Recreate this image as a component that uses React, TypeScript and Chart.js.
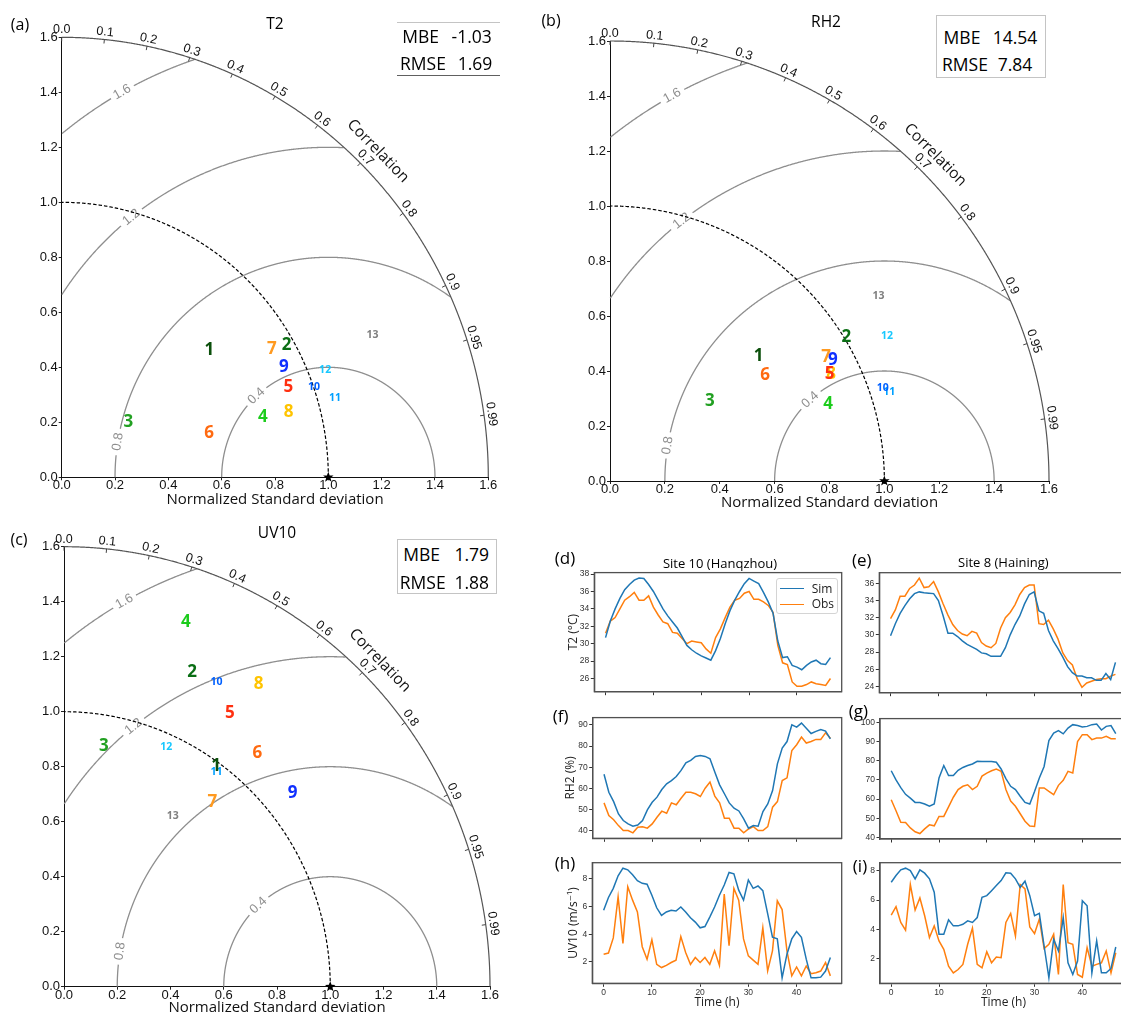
import React, { useEffect, useRef } from 'react';
import { Chart, registerables } from 'chart.js';

Chart.register(...registerables);

// ---------------- data ----------------
const hours = [0, 1, 2, 3, 4, 5, 6, 7, 8, 9, 10, 11, 12, 13, 14, 15, 16, 17, 18, 19, 20, 21, 22, 23, 24, 25, 26, 27, 28, 29, 30, 31, 32, 33, 34, 35, 36, 37, 38, 39, 40, 41, 42, 43, 44, 45, 46, 47];
const hourTicks = [0, 10, 20, 30, 40];

// Site 10 (Hangzhou)
const hzT2Sim = [30.7, 32.6, 34.0, 35.2, 36.2, 36.8, 37.3, 37.55, 37.5, 36.8, 36.0, 35.0, 34.0, 33.2, 32.5, 31.8, 30.8, 29.8, 29.3, 28.9, 28.6, 28.35, 28.1, 29.2, 30.6, 32.3, 33.8, 35.0, 36.0, 36.9, 37.5, 37.2, 36.9, 35.9, 34.8, 33.5, 30.3, 28.4, 28.5, 27.5, 27.3, 27.0, 27.5, 27.9, 28.1, 27.7, 27.6, 28.4];
const hzT2Obs = [31.2, 32.6, 33.0, 34.0, 35.0, 35.4, 35.9, 35.0, 35.0, 35.5, 34.2, 33.3, 32.5, 32.3, 31.3, 31.2, 30.6, 30.0, 30.3, 30.2, 30.1, 29.4, 28.9, 30.7, 31.7, 33.0, 34.2, 35.0, 35.2, 35.8, 36.0, 35.1, 35.1, 34.8, 34.4, 33.6, 29.8, 27.8, 27.6, 25.6, 25.1, 25.1, 25.3, 25.6, 25.4, 25.3, 25.2, 26.0];
const hzRHSim = [66.7, 58.2, 53.8, 48, 44.9, 43.3, 42.2, 42.8, 44.9, 49.9, 53.5, 55.9, 59.5, 62.2, 63.7, 65.6, 68.5, 72.1, 73.2, 75.1, 75.5, 75.1, 74, 67.7, 61.7, 57.5, 53.2, 50.7, 49.4, 45.7, 41.3, 42.5, 42.2, 49.1, 52.7, 59, 71.6, 79, 82.1, 90, 88.9, 90.8, 88.4, 85.9, 86.9, 87.8, 87, 83.4];
const hzRHObs = [53.2, 47.2, 45.3, 42.5, 40.2, 40.2, 39.1, 41.7, 42, 41.3, 43.3, 46.4, 49.3, 48.3, 53.2, 52.3, 55.4, 58.2, 58.2, 57.5, 56.2, 60.1, 63, 56.4, 53.2, 46, 46, 41.3, 41.3, 39.1, 40.9, 42, 40.2, 40.2, 42, 51.2, 53.8, 63.7, 65, 77.9, 80.6, 84.2, 81.4, 82.1, 83.1, 83.1, 86.2, 83.7];
const hzUVSim = [5.72, 6.64, 7.3, 8.2, 8.75, 8.63, 8.27, 7.85, 7.66, 7.6, 6.8, 5.9, 5.35, 5.6, 5.72, 5.67, 5.96, 5.6, 5.18, 4.87, 4.46, 4.55, 5.23, 5.96, 6.8, 7.54, 8.44, 8.34, 7.17, 6.45, 7.9, 7.3, 7.47, 7.13, 5.48, 3.78, 3.66, 0.86, 2.56, 3.66, 4.19, 3.78, 2.2, 0.86, 0.86, 0.91, 1.35, 2.32];
const hzUVObs = [2.56, 2.64, 3.73, 6.69, 3.34, 7.42, 6.45, 5.6, 3.1, 2.2, 3.6, 1.83, 1.6, 1.76, 1.96, 2.13, 3.83, 2.68, 1.83, 2.32, 1.96, 2.32, 1.83, 2.8, 1.76, 6.88, 3.17, 7.3, 6.45, 3.66, 2.44, 2.13, 1.83, 4.46, 1.35, 2.8, 6.4, 5.77, 2.8, 1.0, 1.64, 1.0, 1.71, 1.16, 1.23, 1.35, 1.96, 1.0];

// Site 8 (Haining)
const hnT2Sim = [29.9, 31.3, 32.5, 33.4, 34.2, 34.8, 35.0, 34.9, 34.85, 34.8, 34.0, 32.2, 30.2, 30.2, 29.8, 29.3, 28.9, 28.6, 28.3, 27.9, 27.8, 27.5, 27.5, 27.5, 28.5, 30.0, 31.2, 32.2, 33.6, 34.7, 35.0, 32.8, 32.5, 30.5, 29.3, 28.4, 27.4, 26.3, 25.6, 25.2, 25.2, 25.0, 25.0, 24.7, 24.7, 25.5, 24.8, 26.8];
const hnT2Obs = [31.9, 32.9, 34.5, 34.5, 35.4, 35.8, 36.6, 35.5, 35.6, 36.2, 35.0, 33.6, 32.3, 31.2, 30.5, 30.1, 29.9, 30.4, 30.2, 29.1, 28.7, 28.5, 29.0, 30.8, 32.0, 32.6, 33.5, 34.7, 35.5, 35.8, 35.8, 31.3, 31.2, 31.7, 30.7, 29.5, 27.9, 27.0, 26.5, 24.9, 23.9, 24.4, 24.6, 24.8, 24.9, 24.9, 25.2, 25.4];
const hnRHSim = [74.8, 70, 66, 62.5, 60.5, 58.3, 58.2, 57.5, 56.3, 57.5, 71, 77.5, 72.3, 72.3, 75, 76.5, 77.5, 78.3, 79.7, 79.6, 79.6, 79.6, 79.2, 75.7, 70.7, 66.7, 65, 61.5, 58.3, 57.5, 64, 71, 77, 90.5, 94.4, 95.7, 94, 97, 98.8, 98.4, 97.6, 97.9, 98.8, 99.1, 96, 97.9, 98.3, 94.1];
const hnRHObs = [59.7, 54, 48, 47.8, 45, 43, 42.1, 44.5, 46.6, 46.1, 51, 51, 56, 61, 65, 66.7, 67.5, 65, 66.7, 72, 73.6, 74.8, 75.7, 74.5, 65, 59, 56.3, 52.4, 48.5, 46.0, 45.8, 65.8, 65.8, 64, 62.3, 67.2, 69.8, 74.5, 73.6, 90, 93.6, 93.6, 91, 91.8, 91.8, 92.7, 91.5, 91.5];
const hnUVSim = [7.22, 7.68, 8.07, 8.18, 8.02, 7.45, 8.07, 7.84, 7.45, 6.53, 3.66, 3.66, 4.64, 4.23, 4.23, 4.34, 4.57, 4.46, 4.8, 6.18, 6.3, 6.64, 6.99, 7.33, 7.86, 7.84, 7.45, 6.87, 7.29, 6.3, 4.92, 5.08, 2.85, 0.67, 3.31, 2.51, 4.8, 1.7, 0.9, 1.82, 5.95, 5.6, 1.01, 3.2, 1.01, 1.01, 1.31, 2.78];
const hnUVObs = [4.97, 5.54, 4.46, 3.93, 7.06, 5.31, 6.14, 4.92, 3.43, 4.23, 3.2, 2.62, 1.47, 1.01, 1.24, 1.59, 2.97, 4.07, 1.59, 1.36, 2.46, 1.7, 2.09, 2.05, 4.46, 5.08, 3.54, 7.06, 6.76, 4.16, 3.7, 4.69, 2.67, 2.97, 3.66, 0.9, 7.06, 3.08, 2.97, 0.9, 0.71, 2.74, 1.47, 1.59, 1.7, 2.51, 1.01, 2.39];

const t2HzTicks = [26, 28, 30, 32, 34, 36, 38];
const t2HnTicks = [24, 26, 28, 30, 32, 34, 36];
const rhHzTicks = [40, 50, 60, 70, 80, 90];
const rhHnTicks = [40, 50, 60, 70, 80, 90, 100];
const uvTicks = [2, 4, 6, 8];

// Taylor diagrams (normalized std-dev plane coordinates of each site label)
const siteIds = ['1', '2', '3', '4', '5', '6', '7', '8', '9', '10', '11', '12', '13'];
const t2X = [0.554, 0.844, 0.25, 0.754, 0.85, 0.553, 0.788, 0.851, 0.833, 0.946, 1.025, 0.988, 1.166];
const t2Y = [0.461, 0.481, 0.202, 0.217, 0.327, 0.16, 0.465, 0.236, 0.40, 0.33, 0.287, 0.39, 0.519];
const rh2X = [0.542, 0.861, 0.364, 0.795, 0.80, 0.565, 0.788, 0.806, 0.812, 0.994, 1.018, 1.01, 0.979];
const rh2Y = [0.455, 0.524, 0.291, 0.28, 0.389, 0.384, 0.449, 0.389, 0.44, 0.337, 0.324, 0.528, 0.673];
const uvX = [0.571, 0.481, 0.15, 0.458, 0.623, 0.726, 0.557, 0.731, 0.859, 0.573, 0.573, 0.384, 0.408];
const uvY = [0.802, 1.145, 0.876, 1.324, 0.996, 0.848, 0.672, 1.099, 0.703, 1.109, 0.782, 0.872, 0.622];
const refPoint = [1.0, 0.0];

const stdTicks = [0, 0.2, 0.4, 0.6, 0.8, 1.0, 1.2, 1.4, 1.6];
const corrValues = [0, 0.1, 0.2, 0.3, 0.4, 0.5, 0.6, 0.7, 0.8, 0.9, 0.95, 0.99];
const corrLabels = ['0.0', '0.1', '0.2', '0.3', '0.4', '0.5', '0.6', '0.7', '0.8', '0.9', '0.95', '0.99'];
const rmsLevels = [0.4, 0.8, 1.2, 1.6];
const rmsLabels = ['0.4', '0.8', '1.2', '1.6'];
const stdMax = 1.6;

// ---------------- styles ----------------
const siteColors = ['#0b4f0b', '#0a6e14', '#22a022', '#1ccc1c', '#ff3010', '#ff6a10', '#ff9a20', '#ffc400', '#1030ff', '#0060ff', '#00a0ff', '#18c8ff', '#808080'];
const rmsLabelAngleDeg = [132.4, 170.7, 128, 118.9];
const FONT_NUM = '"Liberation Sans", "DejaVu Sans", sans-serif';
const FONT_TXT = '"Open Sans", "DejaVu Sans", sans-serif';
const SIM_COLOR = '#1f77b4';
const OBS_COLOR = '#ff7f0e';

type Box = { l: number; t: number; r: number; b: number };

function ChartCanvas({ box, config }: { box: Box; config: () => any }) {
  const ref = useRef<HTMLCanvasElement | null>(null);
  useEffect(() => {
    const chart = new Chart(ref.current as HTMLCanvasElement, config());
    return () => chart.destroy();
  }, []);
  const w = box.r - box.l;
  const h = box.b - box.t;
  return (
    <canvas
      ref={ref}
      width={w}
      height={h}
      style={{ position: 'absolute', left: box.l, top: box.t, width: w, height: h }}
    />
  );
}

function drawStar(ctx: CanvasRenderingContext2D, x: number, y: number, ro: number, ri: number) {
  ctx.beginPath();
  for (let i = 0; i < 10; i++) {
    const a = -Math.PI / 2 + (i * Math.PI) / 5;
    const r = i % 2 === 0 ? ro : ri;
    const px = x + r * Math.cos(a);
    const py = y + r * Math.sin(a);
    if (i === 0) ctx.moveTo(px, py);
    else ctx.lineTo(px, py);
  }
  ctx.closePath();
  ctx.fill();
}

const taylorPlugin = {
  id: 'taylorGrid',
  beforeDatasetsDraw(chart: any) {
    const ctx: CanvasRenderingContext2D = chart.ctx;
    const xs = chart.scales.x;
    const ys = chart.scales.y;
    const px = (v: number) => xs.getPixelForValue(v);
    const py = (v: number) => ys.getPixelForValue(v);
    const kx = px(1) - px(0);
    const ky = py(0) - py(1);
    ctx.save();

    // RMS difference contours centred on the reference point
    rmsLevels.forEach((R, k) => {
      const phiL = (rmsLabelAngleDeg[k] * Math.PI) / 180;
      const gap = 13 / (R * (kx + ky) / 2);
      ctx.strokeStyle = '#8e8e8e';
      ctx.lineWidth = 1.3;
      ctx.setLineDash([]);
      ctx.beginPath();
      let pen = false;
      for (let i = 0; i <= 1440; i++) {
        const phi = (Math.PI * i) / 1440;
        const x = refPoint[0] + R * Math.cos(phi);
        const y = R * Math.sin(phi);
        const ok = x >= 0 && x * x + y * y <= stdMax * stdMax + 1e-9 && Math.abs(phi - phiL) > gap;
        if (ok) {
          if (!pen) { ctx.moveTo(px(x), py(y)); pen = true; }
          else ctx.lineTo(px(x), py(y));
        } else pen = false;
      }
      ctx.stroke();
      const lx = refPoint[0] + R * Math.cos(phiL);
      const ly = R * Math.sin(phiL);
      let ang = Math.atan2(-Math.cos(phiL) * ky, -Math.sin(phiL) * kx);
      if (ang > Math.PI / 2) ang -= Math.PI;
      if (ang < -Math.PI / 2) ang += Math.PI;
      ctx.save();
      ctx.translate(px(lx), py(ly));
      ctx.rotate(ang);
      ctx.fillStyle = '#8e8e8e';
      ctx.font = `13px ${FONT_NUM}`;
      ctx.textAlign = 'center';
      ctx.textBaseline = 'middle';
      ctx.fillText(rmsLabels[k], 0, 0);
      ctx.restore();
    });

    const arc = (r: number, dash: number[], color: string, lw: number) => {
      ctx.beginPath();
      for (let i = 0; i <= 720; i++) {
        const th = (Math.PI / 2) * (i / 720);
        const X = px(r * Math.cos(th));
        const Y = py(r * Math.sin(th));
        if (i === 0) ctx.moveTo(X, Y);
        else ctx.lineTo(X, Y);
      }
      ctx.setLineDash(dash);
      ctx.strokeStyle = color;
      ctx.lineWidth = lw;
      ctx.stroke();
      ctx.setLineDash([]);
    };
    arc(stdMax, [], '#555555', 1.2);
    arc(refPoint[0], [3.5, 2], '#000000', 1.2);

    // correlation ticks and labels
    ctx.fillStyle = '#111';
    ctx.strokeStyle = '#444';
    ctx.lineWidth = 1;
    ctx.textAlign = 'center';
    ctx.textBaseline = 'middle';
    corrValues.forEach((c, k) => {
      const th = Math.acos(c);
      const X = px(stdMax * Math.cos(th));
      const Y = py(stdMax * Math.sin(th));
      let nx = Math.cos(th) * kx;
      let ny = -Math.sin(th) * ky;
      const nl = Math.hypot(nx, ny);
      nx /= nl; ny /= nl;
      ctx.beginPath();
      ctx.moveTo(X, Y);
      ctx.lineTo(X - nx * 4, Y - ny * 4);
      ctx.stroke();
      const ang = Math.atan2(Math.cos(th) * ky, Math.sin(th) * kx);
      ctx.save();
      ctx.translate(X + nx * 7.5, Y + ny * 7.5);
      ctx.rotate(ang);
      ctx.font = `12.5px ${FONT_NUM}`;
      ctx.fillText(corrLabels[k], 0, 0);
      ctx.restore();
    });
    {
      const th = Math.PI / 4;
      const X = px(stdMax * Math.cos(th));
      const Y = py(stdMax * Math.sin(th));
      let nx = Math.cos(th) * kx;
      let ny = -Math.sin(th) * ky;
      const nl = Math.hypot(nx, ny);
      nx /= nl; ny /= nl;
      const ang = Math.atan2(Math.cos(th) * ky, Math.sin(th) * kx);
      ctx.save();
      ctx.translate(X + nx * 21, Y + ny * 21);
      ctx.rotate(ang);
      ctx.font = `15.5px ${FONT_TXT}`;
      ctx.fillText('Correlation', 0, 0);
      ctx.restore();
    }
    ctx.restore();
  },
  afterDatasetsDraw(chart: any) {
    const ctx: CanvasRenderingContext2D = chart.ctx;
    ctx.save();
    const refMeta = chart.getDatasetMeta(1);
    const rEl = refMeta.data[0];
    ctx.fillStyle = '#000';
    drawStar(ctx, rEl.x, rEl.y, 5.5, 2.3);
    const meta = chart.getDatasetMeta(0);
    ctx.textAlign = 'center';
    ctx.textBaseline = 'middle';
    for (let i = meta.data.length - 1; i >= 0; i--) {
      const el = meta.data[i];
      const big = siteIds[i].length === 1;
      ctx.font = `bold ${big ? 17 : 10.5}px ${FONT_TXT}`;
      ctx.fillStyle = siteColors[i];
      ctx.fillText(siteIds[i], el.x, el.y);
    }
    ctx.restore();
  },
};

function taylorConfig(xsArr: number[], ysArr: number[], plot: Box, canvas: Box) {
  const padTop = plot.t - canvas.t;
  const padRight = canvas.r - plot.r;
  const yW = plot.l - canvas.l;
  const xH = canvas.b - plot.b;
  const tickFont = { family: FONT_NUM, size: 13, lineHeight: 1 };
  return {
    type: 'scatter',
    data: {
      datasets: [
        { data: xsArr.map((x, i) => ({ x, y: ysArr[i] })), pointRadius: 0, clip: false },
        { data: [{ x: refPoint[0], y: refPoint[1] }], pointRadius: 0, clip: false },
      ],
    },
    options: {
      responsive: false,
      animation: false,
      events: [],
      layout: { padding: { top: padTop, right: padRight, left: 0, bottom: 0 }, autoPadding: false },
      plugins: { legend: { display: false }, tooltip: { enabled: false }, title: { display: false } },
      scales: {
        x: {
          type: 'linear',
          position: 'bottom',
          min: 0,
          max: stdMax,
          afterBuildTicks: (s: any) => { s.ticks = stdTicks.map((v) => ({ value: v })); },
          afterFit: (s: any) => { s.height = xH; },
          ticks: { callback: (v: any) => Number(v).toFixed(1), font: tickFont, color: '#111', padding: -1, maxRotation: 0, autoSkip: false },
          grid: { drawOnChartArea: false, tickLength: 3, color: '#222' },
          border: { display: true, color: '#111', width: 1 },
          title: { display: true, text: 'Normalized Standard deviation', font: { family: FONT_TXT, size: 15, lineHeight: 1.2 }, color: '#111', padding: 0 },
        },
        y: {
          type: 'linear',
          position: 'left',
          min: 0,
          max: stdMax,
          afterBuildTicks: (s: any) => { s.ticks = stdTicks.map((v) => ({ value: v })); },
          afterFit: (s: any) => { s.width = yW; },
          ticks: { callback: (v: any) => Number(v).toFixed(1), font: tickFont, color: '#111', padding: 1, autoSkip: false },
          grid: { drawOnChartArea: false, tickLength: 3, color: '#222' },
          border: { display: true, color: '#111', width: 1 },
        },
      },
    },
    plugins: [taylorPlugin],
  };
}

const framePlugin = {
  id: 'frameBox',
  afterDraw(chart: any) {
    const { ctx, chartArea: a } = chart;
    ctx.save();
    ctx.strokeStyle = '#505050';
    ctx.lineWidth = 1.3;
    ctx.strokeRect(a.left, a.top, a.right - a.left, a.bottom - a.top);
    ctx.restore();
  },
};

function seriesConfig(sim: number[], obs: number[], yTicks: number[], plot: Box, canvas: Box, showX: boolean, yTitle?: string, xTitle?: string) {
  const padTop = plot.t - canvas.t;
  const padRight = canvas.r - plot.r;
  const yW = plot.l - canvas.l;
  const xH = canvas.b - plot.b;
  const all = sim.concat(obs);
  const lo = Math.min(...all);
  const hi = Math.max(...all);
  const my = (hi - lo) * 0.05;
  const h0 = hours[0];
  const h1 = hours[hours.length - 1];
  const mx = (h1 - h0) * 0.05;
  const tickFont = { family: FONT_NUM, size: 8.5, lineHeight: 1.2 };
  const titleFont = { family: FONT_TXT, size: 12, lineHeight: 1.2 };
  return {
    type: 'line',
    data: {
      datasets: [
        { label: 'Sim', data: hours.map((h, i) => ({ x: h, y: sim[i] })), borderColor: SIM_COLOR, borderWidth: 1.5, pointRadius: 0, tension: 0, fill: false },
        { label: 'Obs', data: hours.map((h, i) => ({ x: h, y: obs[i] })), borderColor: OBS_COLOR, borderWidth: 1.5, pointRadius: 0, tension: 0, fill: false },
      ],
    },
    options: {
      responsive: false,
      animation: false,
      events: [],
      layout: { padding: { top: padTop, right: padRight, left: 0, bottom: 0 }, autoPadding: false },
      plugins: { legend: { display: false }, tooltip: { enabled: false }, title: { display: false } },
      scales: {
        x: {
          type: 'linear',
          position: 'bottom',
          min: h0 - mx,
          max: h1 + mx,
          afterBuildTicks: (s: any) => { s.ticks = hourTicks.map((v) => ({ value: v })); },
          afterFit: (s: any) => { s.height = xH; },
          ticks: { callback: (v: any) => (showX ? String(v) : ''), font: tickFont, color: '#333', padding: 1, maxRotation: 0, autoSkip: false },
          grid: { drawOnChartArea: false, tickLength: 3.5, color: '#333' },
          border: { display: true, color: '#505050', width: 1.3 },
          title: xTitle ? { display: true, text: xTitle, font: titleFont, color: '#222', padding: 0 } : { display: false },
        },
        y: {
          type: 'linear',
          position: 'left',
          min: lo - my,
          max: hi + my,
          afterBuildTicks: (s: any) => { s.ticks = yTicks.map((v) => ({ value: v })); },
          afterFit: (s: any) => { s.width = yW; },
          ticks: { callback: (v: any) => String(v), font: tickFont, color: '#333', padding: 1.5, autoSkip: false },
          grid: { drawOnChartArea: false, tickLength: 3.5, color: '#333' },
          border: { display: true, color: '#505050', width: 1.3 },
          title: yTitle ? { display: true, text: yTitle, font: titleFont, color: '#222', padding: 0 } : { display: false },
        },
      },
    },
    plugins: [framePlugin],
  };
}

function Txt({ x, y, size, children, color = '#000', weight = 400, align = 'center' }: any) {
  const tx = align === 'left' ? '0' : '-50%';
  return (
    <div
      style={{
        position: 'absolute',
        left: x,
        top: y,
        transform: `translate(${tx}, -50%)`,
        fontSize: size,
        lineHeight: 1,
        whiteSpace: 'nowrap',
        color,
        fontWeight: weight,
        fontFamily: FONT_TXT,
      }}
    >
      {children}
    </div>
  );
}

// panel geometry
const plotA: Box = { l: 61.7, t: 37.3, r: 488.3, b: 477.3 };
const canA: Box = { l: 14, t: 8, r: 525, b: 509 };
const plotB: Box = { l: 610, t: 41, r: 1049, b: 481 };
const canB: Box = { l: 562, t: 8, r: 1090, b: 512 };
const plotC: Box = { l: 64, t: 546.7, r: 490, b: 986.7 };
const canC: Box = { l: 14, t: 516, r: 528, b: 1017 };

const plotD: Box = { l: 594.3, t: 572.3, r: 841.7, b: 691.7 };
const canD: Box = { l: 566, t: 566, r: 846, b: 700 };
const plotE: Box = { l: 879.3, t: 572.7, r: 1126.7, b: 692.7 };
const canE: Box = { l: 856, t: 566, r: 1130, b: 701 };
const plotF: Box = { l: 592.7, t: 717.3, r: 841.7, b: 838.3 };
const canF: Box = { l: 563, t: 711, r: 846, b: 846 };
const plotG: Box = { l: 880, t: 718.3, r: 1127, b: 839 };
const canG: Box = { l: 856, t: 712, r: 1130, b: 847 };
const plotH: Box = { l: 592.3, t: 862.7, r: 841.7, b: 983.3 };
const canH: Box = { l: 566, t: 856, r: 846, b: 1010 };
const plotI: Box = { l: 880, t: 862.7, r: 1127, b: 983.3 };
const canI: Box = { l: 856, t: 856, r: 1130, b: 1010 };

function StatBox({ box, rows, lines }: any) {
  return (
    <>
      {lines ? (
        <>
          <div style={{ position: 'absolute', left: box.l, top: box.t, width: box.r - box.l, borderTop: '1px solid #c4c4c4' }} />
          <div style={{ position: 'absolute', left: box.l, top: box.b, width: box.r - box.l, borderTop: '1.5px solid #606060' }} />
        </>
      ) : (
        <div style={{ position: 'absolute', left: box.l, top: box.t, width: box.r - box.l, height: box.b - box.t, border: '1.5px solid #c4c4c4', boxSizing: 'border-box', background: '#fff' }} />
      )}
      {rows.map((r: any, i: number) => (
        <React.Fragment key={i}>
          <Txt x={r.kx} y={r.y} size={17.5}>{r.k}</Txt>
          <Txt x={r.vx} y={r.y} size={17.5}>{r.v}</Txt>
        </React.Fragment>
      ))}
    </>
  );
}

export default function App() {
  return (
    <div style={{ position: 'fixed', left: 0, top: 0, width: 1121, height: 1016, overflow: 'hidden', background: '#fff', fontFamily: FONT_TXT }}>
      <ChartCanvas box={canA} config={() => taylorConfig(t2X, t2Y, plotA, canA)} />
      <ChartCanvas box={canB} config={() => taylorConfig(rh2X, rh2Y, plotB, canB)} />
      <ChartCanvas box={canC} config={() => taylorConfig(uvX, uvY, plotC, canC)} />

      <ChartCanvas box={canD} config={() => seriesConfig(hzT2Sim, hzT2Obs, t2HzTicks, plotD, canD, false, 'T2 (°C)')} />
      <ChartCanvas box={canE} config={() => seriesConfig(hnT2Sim, hnT2Obs, t2HnTicks, plotE, canE, false)} />
      <ChartCanvas box={canF} config={() => seriesConfig(hzRHSim, hzRHObs, rhHzTicks, plotF, canF, false, 'RH2 (%)')} />
      <ChartCanvas box={canG} config={() => seriesConfig(hnRHSim, hnRHObs, rhHnTicks, plotG, canG, false)} />
      <ChartCanvas box={canH} config={() => seriesConfig(hzUVSim, hzUVObs, uvTicks, plotH, canH, true, 'UV10 (m/s⁻¹)', 'Time (h)')} />
      <ChartCanvas box={canI} config={() => seriesConfig(hnUVSim, hnUVObs, uvTicks, plotI, canI, true, undefined, 'Time (h)')} />

      {/* Taylor panel labels */}
      <Txt x={20} y={24} size={16}>(a)</Txt>
      <Txt x={275} y={24} size={15.5}>T2</Txt>
      <Txt x={551} y={20} size={16}>(b)</Txt>
      <Txt x={826} y={22} size={15.5}>RH2</Txt>
      <Txt x={19} y={539} size={16}>(c)</Txt>
      <Txt x={277} y={533} size={15.5}>UV10</Txt>

      <StatBox
        lines
        box={{ l: 397, t: 21.5, r: 500, b: 75 }}
        rows={[
          { k: 'MBE', kx: 420.7, v: '-1.03', vx: 471.7, y: 37 },
          { k: 'RMSE', kx: 423, v: '1.69', vx: 475, y: 64 },
        ]}
      />
      <StatBox
        box={{ l: 936, t: 15, r: 1046, b: 78 }}
        rows={[
          { k: 'MBE', kx: 962, v: '14.54', vx: 1015, y: 38 },
          { k: 'RMSE', kx: 965, v: '7.84', vx: 1015, y: 64.5 },
        ]}
      />
      <StatBox
        box={{ l: 397, t: 539, r: 497, b: 594 }}
        rows={[
          { k: 'MBE', kx: 421.7, v: '1.79', vx: 471.7, y: 555 },
          { k: 'RMSE', kx: 422.7, v: '1.88', vx: 471.7, y: 582.7 },
        ]}
      />

      {/* time series labels */}
      <Txt x={565} y={557} size={17}>(d)</Txt>
      <Txt x={720} y={562.7} size={13}>Site 10 (Hanqzhou)</Txt>
      <Txt x={861.7} y={559.3} size={17}>(e)</Txt>
      <Txt x={1003.3} y={562.3} size={13}>Site 8 (Haining)</Txt>
      <Txt x={560.7} y={715} size={17}>(f)</Txt>
      <Txt x={858.3} y={710} size={17}>(g)</Txt>
      <Txt x={565} y={861.7} size={17}>(h)</Txt>
      <Txt x={860} y={865} size={17}>(i)</Txt>

      {/* legend */}
      <div style={{ position: 'absolute', left: 775.7, top: 577.7, width: 62, height: 36.3, border: '1px solid #d4d4d4', borderRadius: 3, background: 'rgba(255,255,255,0.85)', boxSizing: 'border-box' }}>
        <div style={{ position: 'absolute', left: 3, top: 9.3, width: 24, borderTop: `1.5px solid ${SIM_COLOR}` }} />
        <div style={{ position: 'absolute', left: 3, top: 24.9, width: 24, borderTop: `1.5px solid ${OBS_COLOR}` }} />
        <div style={{ position: 'absolute', left: 35, top: 10, transform: 'translateY(-50%)', fontSize: 12, lineHeight: 1, color: '#222' }}>Sim</div>
        <div style={{ position: 'absolute', left: 35, top: 25.6, transform: 'translateY(-50%)', fontSize: 12, lineHeight: 1, color: '#222' }}>Obs</div>
      </div>
    </div>
  );
}
